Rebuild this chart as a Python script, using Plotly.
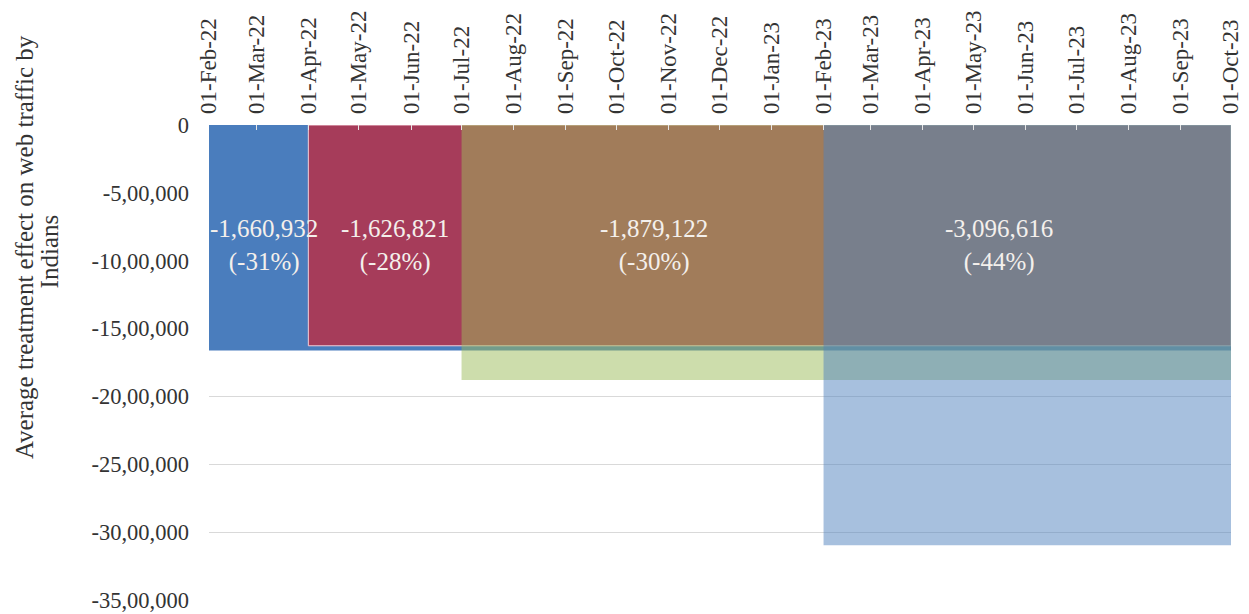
import pandas as pd
import plotly.graph_objects as go

# ---------------- data ----------------
tick_dates = ["2022-02-01", "2022-03-01", "2022-04-01", "2022-05-01", "2022-06-01",
              "2022-07-01", "2022-08-01", "2022-09-01", "2022-10-01", "2022-11-01",
              "2022-12-01", "2023-01-01", "2023-02-01", "2023-03-01", "2023-04-01",
              "2023-05-01", "2023-06-01", "2023-07-01", "2023-08-01", "2023-09-01",
              "2023-10-01"]
tick_labels = ["01-Feb-22", "01-Mar-22", "01-Apr-22", "01-May-22", "01-Jun-22",
               "01-Jul-22", "01-Aug-22", "01-Sep-22", "01-Oct-22", "01-Nov-22",
               "01-Dec-22", "01-Jan-23", "01-Feb-23", "01-Mar-23", "01-Apr-23",
               "01-May-23", "01-Jun-23", "01-Jul-23", "01-Aug-23", "01-Sep-23",
               "01-Oct-23"]

period_starts = ["2022-02-01", "2022-04-01", "2022-07-01", "2023-02-01"]
period_ends = ["2022-04-01", "2022-07-01", "2023-02-01", "2023-10-01"]
effects = [-1660932, -1626821, -1879122, -3096616]
effect_pct = [-31, -28, -30, -44]
series_end = "2023-10-01"

y_tick_vals = [0, -500000, -1000000, -1500000, -2000000, -2500000, -3000000, -3500000]
y_tick_text = ["0", "-5,00,000", "-10,00,000", "-15,00,000", "-20,00,000",
               "-25,00,000", "-30,00,000", "-35,00,000"]

y_title_lines = ["Average treatment effect on web traffic by", "Indians"]

# ---------------- styles ----------------
FONT = "Liberation Serif"
fills = ["#4A7DBD", "#A63C5A", "rgba(155,187,89,0.5)", "rgba(79,129,189,0.5)"]
outlines = ["#4A7DBD", "rgba(245,205,215,1)", "rgba(0,0,0,0)", "rgba(0,0,0,0)"]
outline_w = [0, 1, 0, 0]
label_xshift = [5, 10, 11, -28]
label_y = -885000

fig = go.Figure()

for s, v, fc, lc, lw in zip(period_starts, effects, fills, outlines, outline_w):
    fig.add_trace(go.Scatter(
        x=[s, s, series_end, series_end, s],
        y=[0, v, v, 0, 0],
        mode="lines",
        fill="toself",
        fillcolor=fc,
        line=dict(color=lc, width=lw),
        hoverinfo="skip",
        showlegend=False,
    ))

for s, e, v, p, dx in zip(period_starts, period_ends, effects, effect_pct, label_xshift):
    mid = pd.Timestamp(s) + (pd.Timestamp(e) - pd.Timestamp(s)) / 2
    fig.add_annotation(
        x=mid, y=label_y, xref="x", yref="y",
        text=f"{v:,}<br>({p}%)",
        showarrow=False, xshift=dx,
        font=dict(family=FONT, size=25, color="#F4F0EC"),
        align="center",
    )

# y-axis title, two lines placed like the original
for txt, px, py in zip(y_title_lines, [-0.181, -0.156], [0.743, 0.733]):
    fig.add_annotation(
        x=px, y=py, xref="paper", yref="paper",
        text=txt,
        textangle=-90, showarrow=False, xanchor="center", yanchor="middle",
        font=dict(family=FONT, size=25, color="#333333"),
    )

fig.update_xaxes(
    type="date",
    range=[tick_dates[0], tick_dates[-1]],
    side="top",
    tickmode="array",
    tickvals=tick_dates,
    ticktext=tick_labels,
    tickangle=-90,
    ticks="inside",
    ticklen=5,
    tickcolor="#E6E6E6",
    showgrid=False,
    showline=False,
    zeroline=False,
    tickfont=dict(family=FONT, size=23, color="#333333"),
    ticklabelstandoff=10,
    ticklabelshift=0,
    ticklabeloverflow="allow",
    automargin=False,
)
fig.update_yaxes(
    range=[-3500000, 0],
    tickmode="array",
    tickvals=y_tick_vals,
    ticktext=y_tick_text,
    showgrid=True,
    gridcolor="#D9D9D9",
    gridwidth=1,
    zeroline=False,
    showline=False,
    ticks="",
    tickfont=dict(family=FONT, size=22.5, color="#333333"),
    ticklabelstandoff=19,
    ticklabeloverflow="allow",
    automargin=False,
)

fig.update_layout(
    width=1243, height=606, autosize=False,
    margin=dict(l=201, r=20, t=117, b=14),
    paper_bgcolor="white",
    plot_bgcolor="white",
    font=dict(family=FONT),
)

fig.write_html("out.html")
